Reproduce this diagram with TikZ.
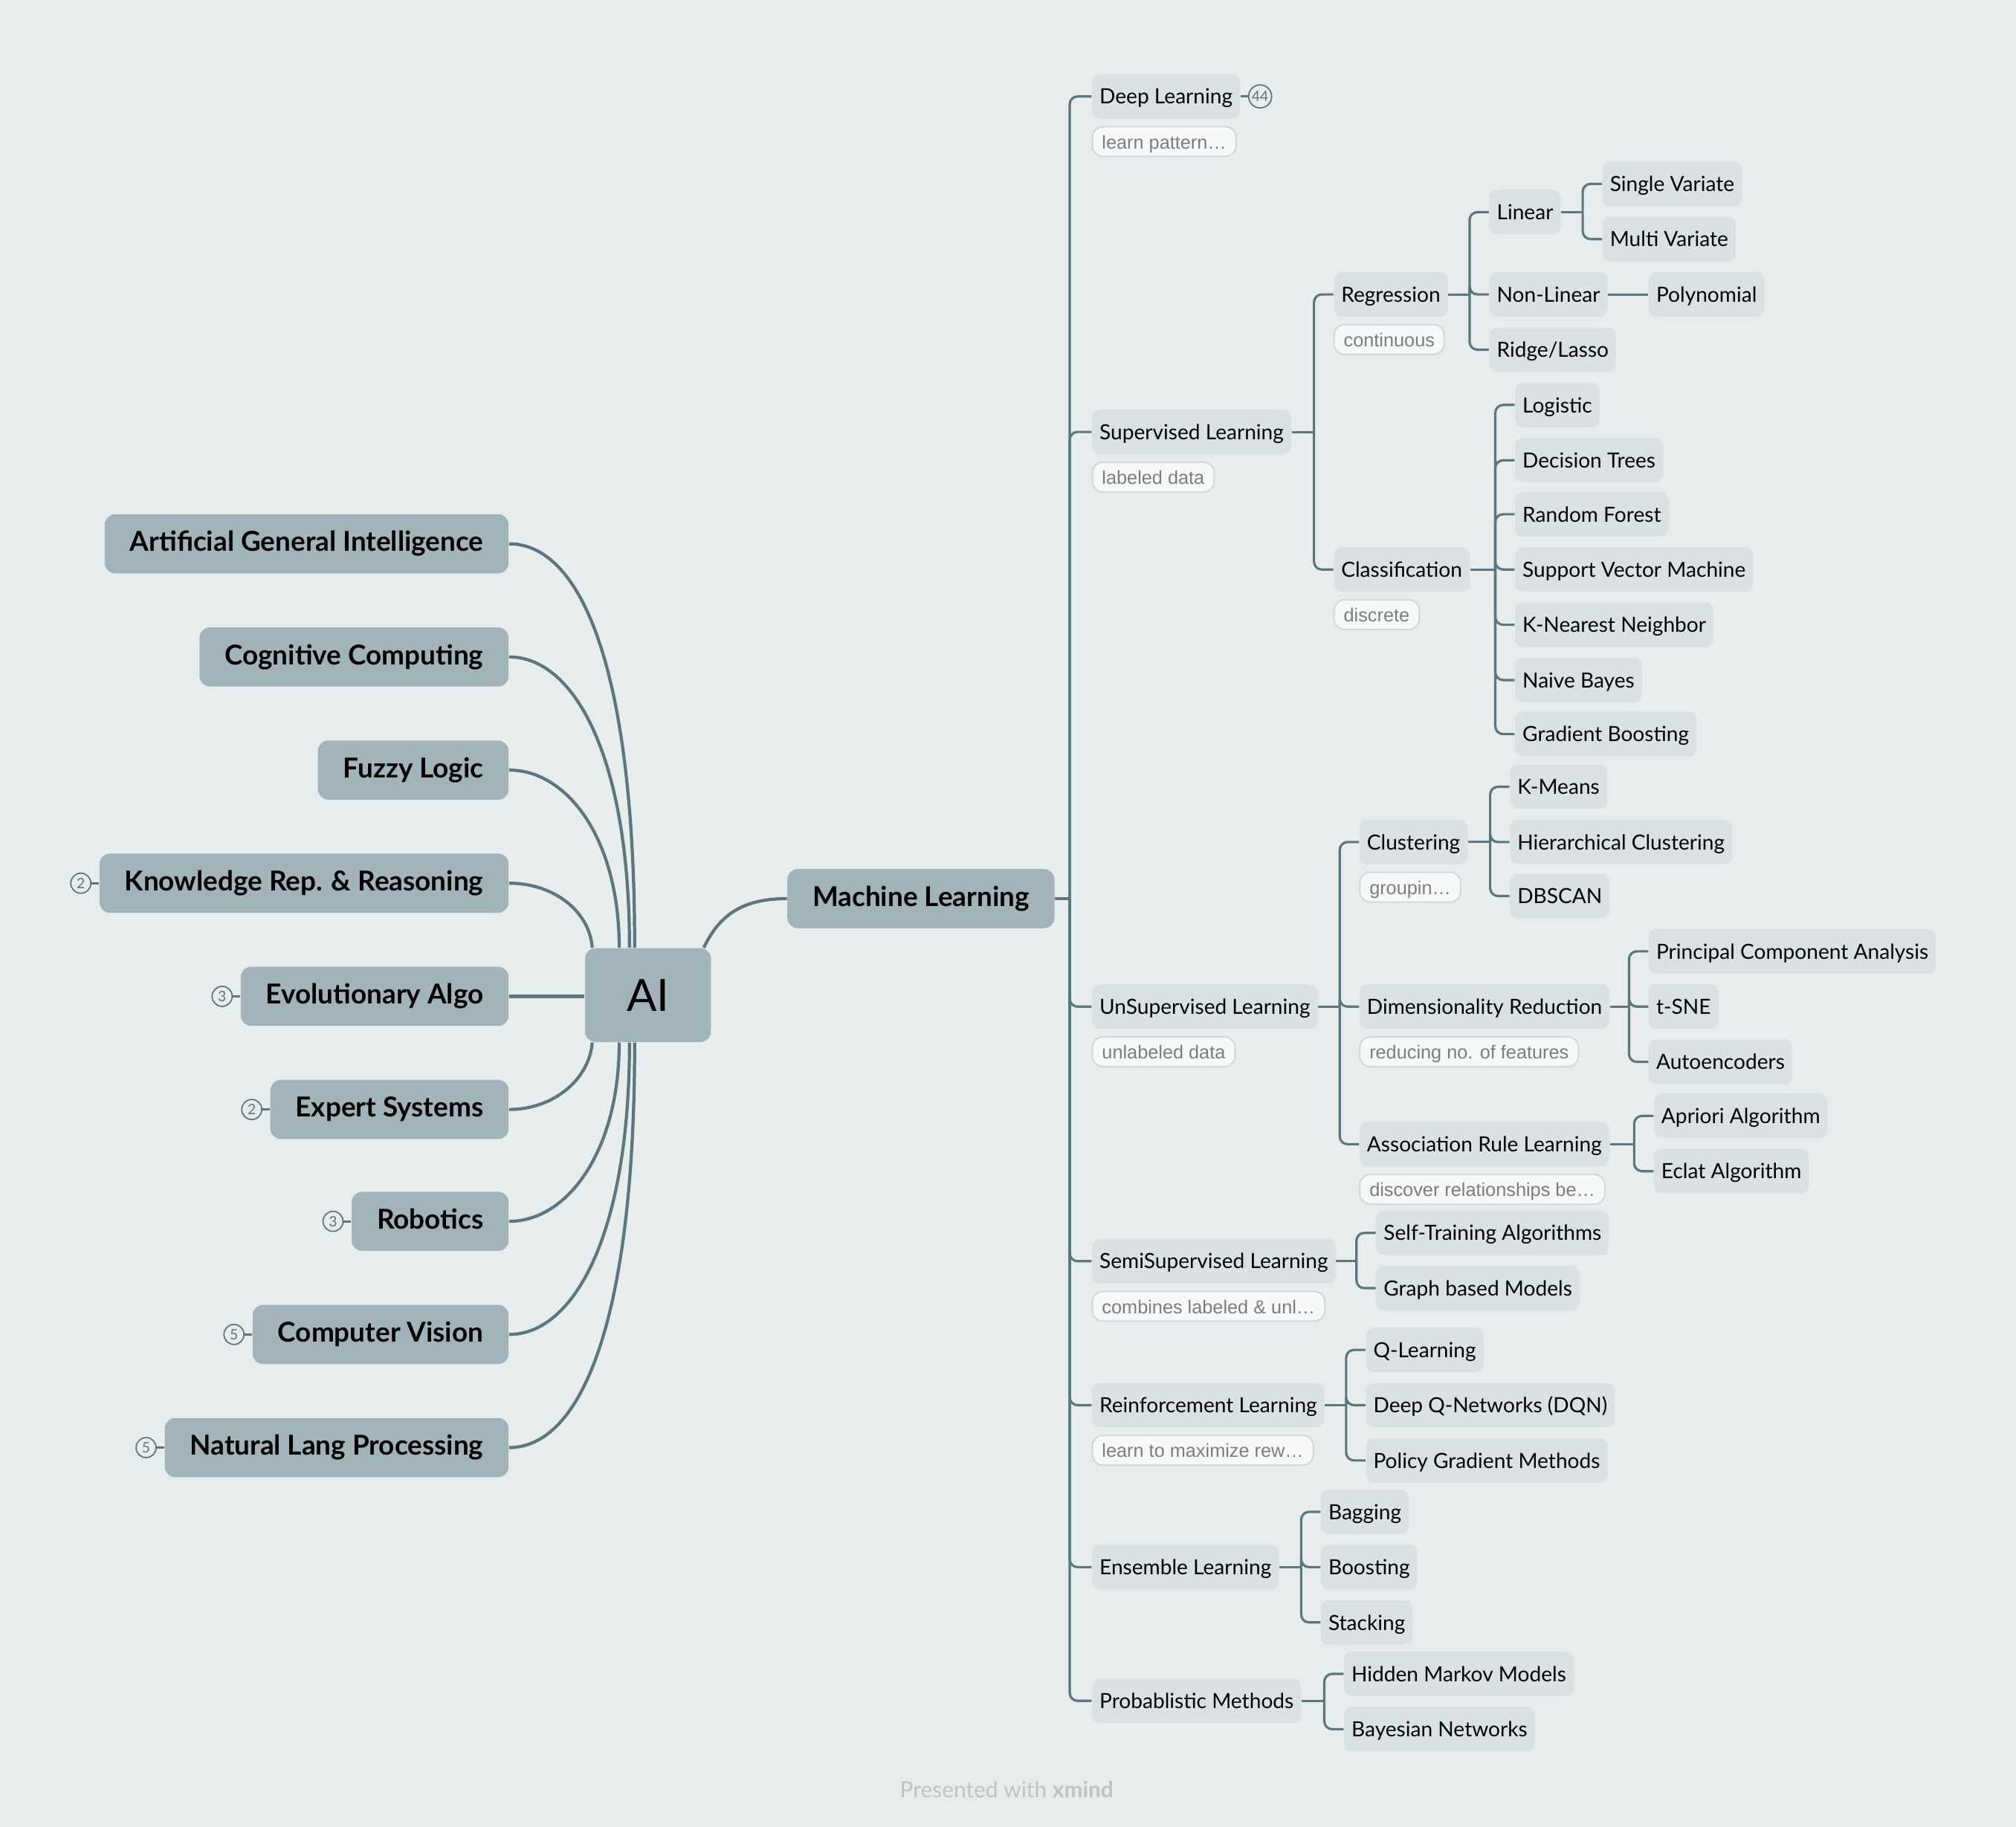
\documentclass[tikz,border=0pt]{standalone}
\usepackage{fontspec}
\setmainfont{Lato}
\newfontfamily\notefont{Liberation Sans}
\usetikzlibrary{positioning, calc, backgrounds}
\definecolor{mmback}{HTML}{E7ECEC}
\definecolor{mmmain}{HTML}{A0B4B9}
\definecolor{mmsub}{HTML}{DAE1E3}
\definecolor{mmline}{HTML}{5B767C}
\definecolor{mmnote}{HTML}{F7F8F9}
\definecolor{mmnoteline}{HTML}{D3D9DB}
\definecolor{mmgray}{HTML}{7D7D7D}
\definecolor{mmfoot}{HTML}{BEC3C4}

\begin{document}
\begin{tikzpicture}[
    x=0.017296cm, y=-0.017296cm,
    mainbox/.style={
        fill=mmmain, rounded corners=4pt, minimum height=0.796cm,
        inner xsep=0.34cm, text height=1.6ex, text depth=0.45ex,
        font=\fontsize{10.5}{12}\selectfont\bfseries
    },
    aibox/.style={
        fill=mmmain, rounded corners=4pt, minimum width=1.695cm,
        minimum height=1.263cm, font=\fontsize{17}{20}\selectfont
    },
    subbox/.style={
        fill=mmsub, rounded corners=3pt, minimum height=0.588cm,
        inner xsep=0.1cm, text height=1.6ex, text depth=0.45ex,
        font=\fontsize{8}{9.6}\selectfont
    },
    notebox/.style={
        fill=mmnote, draw=mmnoteline, line width=0.6pt, rounded corners=4pt,
        minimum height=0.4cm, inner xsep=0.13cm, inner ysep=0pt,
        text height=1.5ex, text depth=0.4ex, text=mmgray,
        font=\notefont\fontsize{7.2}{8.6}\selectfont
    },
    badge/.style={
        circle, draw=mmline, line width=0.5pt, fill=mmback, inner sep=0pt,
        minimum size=0.27cm, text=mmline, font=\fontsize{5.5}{6}\selectfont
    },
    curve/.style={draw=mmline, line width=1.2pt},
    branch/.style={draw=mmline, line width=0.9pt, rounded corners=3pt},
    footer/.style={text=mmfoot, font=\fontsize{8.5}{10}\selectfont},
]

% background and page size
\fill[mmback] (0,0) rectangle (1568,1421);
\useasboundingbox (0,0) rectangle (1568,1421);

% ===================================================================
% ROOT
% ===================================================================
\node[aibox] (ai) at (504,774) {AI};

% ===================================================================
% LEFT BRANCHES
% ===================================================================
\node[mainbox, anchor=east] (agi)    at (396,423)  {Artificial General Intelligence};
\node[mainbox, anchor=east] (cog)    at (396,511)  {Cognitive Computing};
\node[mainbox, anchor=east] (fuzzy)  at (396,599)  {Fuzzy Logic};
\node[mainbox, anchor=east] (krr)    at (396,687)  {Knowledge Rep. \& Reasoning};
\node[mainbox, anchor=east] (evo)    at (396,775)  {Evolutionary Algo};
\node[mainbox, anchor=east] (expert) at (396,863)  {Expert Systems};
\node[mainbox, anchor=east] (robot)  at (396,950)  {Robotics};
\node[mainbox, anchor=east] (cv)     at (396,1038) {Computer Vision};
\node[mainbox, anchor=east] (nlp)    at (396,1126) {Natural Lang Processing};

% collapsed counts
\node[badge, left=0.1cm of krr]    (krr-n)    {2};
\node[badge, left=0.1cm of evo]    (evo-n)    {3};
\node[badge, left=0.1cm of expert] (expert-n) {2};
\node[badge, left=0.1cm of robot]  (robot-n)  {3};
\node[badge, left=0.1cm of cv]     (cv-n)     {5};
\node[badge, left=0.1cm of nlp]    (nlp-n)    {5};
\foreach \b in {krr,evo,expert,robot,cv,nlp}
    \draw[branch] (\b-n) -- (\b);

% curves into the root
\draw[curve] (agi.east)   .. controls +(55,0) and +(0,-220) .. ($(ai.north west)+(39,0)$);
\draw[curve] (cog.east)   .. controls +(50,0) and +(0,-150) .. ($(ai.north west)+(35,0)$);
\draw[curve] (fuzzy.east) .. controls +(45,0) and +(0,-85)  .. ($(ai.north west)+(27,0)$);
\draw[curve] (krr.east)   .. controls +(35,0) and +(-2,-28) .. ($(ai.north west)+(6,0)$);
\draw[curve] (evo.east) -- (evo.east -| ai.west);
\draw[curve] (expert.east) .. controls +(35,0) and +(-2,28) .. ($(ai.south west)+(6,0)$);
\draw[curve] (robot.east)  .. controls +(45,0) and +(0,85)  .. ($(ai.south west)+(27,0)$);
\draw[curve] (cv.east)     .. controls +(50,0) and +(0,150) .. ($(ai.south west)+(35,0)$);
\draw[curve] (nlp.east)    .. controls +(55,0) and +(0,220) .. ($(ai.south west)+(39,0)$);

% ===================================================================
% RIGHT BRANCH -- MACHINE LEARNING
% ===================================================================
\node[mainbox, anchor=west] (ml) at (612,699) {Machine Learning};
\draw[curve] ($(ai.north east)+(-6,0)$) .. controls +(12,-25) and +(-35,0) .. (ml.west);

% first level
\node[subbox, anchor=west] (dl)    at (849,75)   {Deep Learning};
\node[subbox, anchor=west] (sup)   at (849,336)  {Supervised Learning};
\node[subbox, anchor=west] (unsup) at (849,783)  {UnSupervised Learning};
\node[subbox, anchor=west] (semi)  at (849,981)  {SemiSupervised Learning};
\node[subbox, anchor=west] (rl)    at (849,1093) {Reinforcement Learning};
\node[subbox, anchor=west] (ens)   at (849,1219) {Ensemble Learning};
\node[subbox, anchor=west] (prob)  at (849,1323) {Probablistic Methods};

\node[badge, minimum size=0.31cm, right=0.1cm of dl] (dl-n) {44};
\draw[branch] (dl) -- (dl-n);

\node[notebox, below=0.09cm of dl.south west, anchor=north west]    (dl-note)    {learn pattern…};
\node[notebox, below=0.09cm of sup.south west, anchor=north west]   (sup-note)   {labeled data};
\node[notebox, below=0.09cm of unsup.south west, anchor=north west] (unsup-note) {unlabeled data};
\node[notebox, below=0.09cm of semi.south west, anchor=north west]  (semi-note)  {combines labeled \& unl…};
\node[notebox, below=0.09cm of rl.south west, anchor=north west]    (rl-note)    {learn to maximize rew…};

\coordinate (ml-j) at ($(ml.east -| dl.west)+(-17,0)$);
\draw[branch] (ml.east) -- (ml-j);
\foreach \c in {dl,sup,unsup,semi,rl,ens,prob}
    \draw[branch] (\c.west) -| (ml-j);

% --- supervised
\node[subbox, anchor=west] (reg) at (1037,229) {Regression};
\node[subbox, anchor=west] (cls) at (1037,443) {Classification};
\node[notebox, below=0.09cm of reg.south west, anchor=north west] (reg-note) {continuous};
\node[notebox, below=0.09cm of cls.south west, anchor=north west] (cls-note) {discrete};
\coordinate (sup-j) at ($(sup.east -| reg.west)+(-15,0)$);
\draw[branch] (sup.east) -- (sup-j);
\foreach \c in {reg,cls}
    \draw[branch] (\c.west) -| (sup-j);

\node[subbox, anchor=west] (lin)    at (1158,165) {Linear};
\node[subbox, anchor=west] (nonlin) at (1158,229) {Non-Linear};
\node[subbox, anchor=west] (ridge)  at (1158,272) {Ridge/Lasso};
\coordinate (reg-j) at ($(reg.east -| lin.west)+(-15,0)$);
\draw[branch] (reg.east) -- (reg-j);
\foreach \c in {lin,nonlin,ridge}
    \draw[branch] (\c.west) -| (reg-j);

\node[subbox, anchor=west] (single) at (1246,143) {Single Variate};
\node[subbox, anchor=west] (multi)  at (1246,186) {Multi Variate};
\coordinate (lin-j) at ($(lin.east -| single.west)+(-15,0)$);
\draw[branch] (lin.east) -- (lin-j);
\foreach \c in {single,multi}
    \draw[branch] (\c.west) -| (lin-j);

\node[subbox, anchor=west] (poly) at (1282,229) {Polynomial};
\draw[branch] (nonlin) -- (poly);

\node[subbox, anchor=west] (logit) at (1178,315) {Logistic};
\node[subbox, anchor=west] (dtree) at (1178,358) {Decision Trees};
\node[subbox, anchor=west] (rf)    at (1178,400) {Random Forest};
\node[subbox, anchor=west] (svm)   at (1178,443) {Support Vector Machine};
\node[subbox, anchor=west] (knn)   at (1178,486) {K-Nearest Neighbor};
\node[subbox, anchor=west] (nb)    at (1178,529) {Naive Bayes};
\node[subbox, anchor=west] (gb)    at (1178,571) {Gradient Boosting};
\coordinate (cls-j) at ($(cls.east -| logit.west)+(-15,0)$);
\draw[branch] (cls.east) -- (cls-j);
\foreach \c in {logit,dtree,rf,svm,knn,nb,gb}
    \draw[branch] (\c.west) -| (cls-j);

% --- unsupervised
\node[subbox, anchor=west] (clu)   at (1057,655) {Clustering};
\node[subbox, anchor=west] (dim)   at (1057,783) {Dimensionality Reduction};
\node[subbox, anchor=west] (assoc) at (1057,890) {Association Rule Learning};
\node[notebox, below=0.09cm of clu.south west, anchor=north west]   (clu-note)   {groupin…};
\node[notebox, below=0.09cm of dim.south west, anchor=north west]   (dim-note)   {reducing no. of features};
\node[notebox, below=0.09cm of assoc.south west, anchor=north west] (assoc-note) {discover relationships be…};
\coordinate (unsup-j) at ($(unsup.east -| clu.west)+(-15,0)$);
\draw[branch] (unsup.east) -- (unsup-j);
\foreach \c in {clu,dim,assoc}
    \draw[branch] (\c.west) -| (unsup-j);

\node[subbox, anchor=west] (kmeans) at (1174,612) {K-Means};
\node[subbox, anchor=west] (hier)   at (1174,655) {Hierarchical Clustering};
\node[subbox, anchor=west] (dbscan) at (1174,697) {DBSCAN};
\coordinate (clu-j) at ($(clu.east -| kmeans.west)+(-15,0)$);
\draw[branch] (clu.east) -- (clu-j);
\foreach \c in {kmeans,hier,dbscan}
    \draw[branch] (\c.west) -| (clu-j);

\node[subbox, anchor=west] (pca)  at (1282,740) {Principal Component Analysis};
\node[subbox, anchor=west] (tsne) at (1282,783) {t-SNE};
\node[subbox, anchor=west] (auto) at (1282,826) {Autoencoders};
\coordinate (dim-j) at ($(dim.east -| pca.west)+(-15,0)$);
\draw[branch] (dim.east) -- (dim-j);
\foreach \c in {pca,tsne,auto}
    \draw[branch] (\c.west) -| (dim-j);

\node[subbox, anchor=west] (apriori) at (1286,868) {Apriori Algorithm};
\node[subbox, anchor=west] (eclat)   at (1286,911) {Eclat Algorithm};
\coordinate (assoc-j) at ($(assoc.east -| apriori.west)+(-15,0)$);
\draw[branch] (assoc.east) -- (assoc-j);
\foreach \c in {apriori,eclat}
    \draw[branch] (\c.west) -| (assoc-j);

% --- semi-supervised
\node[subbox, anchor=west] (selftr) at (1070,959)  {Self-Training Algorithms};
\node[subbox, anchor=west] (graph)  at (1070,1002) {Graph based Models};
\coordinate (semi-j) at ($(semi.east -| selftr.west)+(-15,0)$);
\draw[branch] (semi.east) -- (semi-j);
\foreach \c in {selftr,graph}
    \draw[branch] (\c.west) -| (semi-j);

% --- reinforcement
\node[subbox, anchor=west] (qlearn) at (1062,1050) {Q-Learning};
\node[subbox, anchor=west] (dqn)    at (1062,1093) {Deep Q-Networks (DQN)};
\node[subbox, anchor=west] (pg)     at (1062,1136) {Policy Gradient Methods};
\coordinate (rl-j) at ($(rl.east -| qlearn.west)+(-15,0)$);
\draw[branch] (rl.east) -- (rl-j);
\foreach \c in {qlearn,dqn,pg}
    \draw[branch] (\c.west) -| (rl-j);

% --- ensemble
\node[subbox, anchor=west] (bag)   at (1027,1176) {Bagging};
\node[subbox, anchor=west] (boost) at (1027,1219) {Boosting};
\node[subbox, anchor=west] (stack) at (1027,1262) {Stacking};
\coordinate (ens-j) at ($(ens.east -| bag.west)+(-15,0)$);
\draw[branch] (ens.east) -- (ens-j);
\foreach \c in {bag,boost,stack}
    \draw[branch] (\c.west) -| (ens-j);

% --- probabilistic
\node[subbox, anchor=west] (hmm)   at (1045,1302) {Hidden Markov Models};
\node[subbox, anchor=west] (bayes) at (1045,1345) {Bayesian Networks};
\coordinate (prob-j) at ($(prob.east -| hmm.west)+(-15,0)$);
\draw[branch] (prob.east) -- (prob-j);
\foreach \c in {hmm,bayes}
    \draw[branch] (\c.west) -| (prob-j);

% footer
\node[footer] (credit) at (783,1392) {Presented with \textbf{xmind}};

\end{tikzpicture}
\end{document}
